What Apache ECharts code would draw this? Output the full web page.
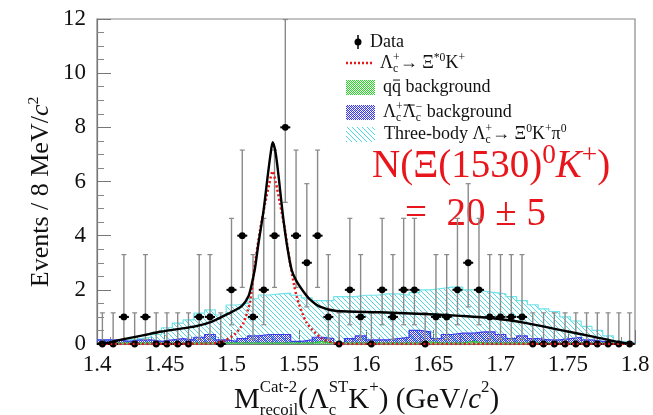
<!DOCTYPE html>
<html><head><meta charset="utf-8">
<script src="https://cdn.jsdelivr.net/npm/echarts@6.0.0/dist/echarts.min.js"></script>
<style>html,body{margin:0;padding:0;background:#fff}#c{width:653px;height:415px}</style>
</head><body><div id="c"></div>
<script>
// ---------------- data ----------------
const binLow = 1.4, binWidth = 0.008;
const counts = [0,0,1,0,1,0,0,0,0,1, 1,0,2,4,1,2,4,8,4,3, 4,1,0,2,1,0,2,1,2,2, 0,1,1,2,3,2,1,1,1,1, 0,0,0,0,0,0,0,0,0,0];
const errDown = {0:0, 1:0.83, 2:1.29, 3:1.63, 4:1.91, 8:2.77};
const errUp   = {0:1.15, 1:2.30, 2:2.64, 3:2.92, 4:3.16, 8:3.98};
const threeBody = [0.15,0.15,0.15,0.2,0.25,0.35,0.6,0.77,0.89,1.14, 1.26,1.07,1.44,1.5,1.67,1.81,1.85,1.88,1.8,1.7, 1.6,1.6,1.75,1.75,1.8,1.8,1.85,1.85,1.8,1.9, 2.0,2.05,2.1,2.1,2.0,1.95,1.9,1.85,1.75,1.6, 1.45,1.3,1.2,1.0,0.85,0.65,0.5,0.3,0.1,0.05];
const lcBkg = [0.15,0.15,0.1,0.15,0.15,0.1,0.15,0.2,0.15,0.25, 0.35,0.15,0.1,0.2,0.3,0.35,0.35,0.35,0.1,0.15, 0.25,0.2,0.05,0.2,0.3,0.15,0.15,0.2,0.25,0.5, 0.45,0.2,0.35,0.4,0.4,0.45,0.45,0.35,0.2,0.3, 0.2,0.15,0.15,0.2,0.25,0.15,0.1,0.1,0.05,0.02];
const qqBkg = [0.04,0.04,0.04,0.04,0.04,0.04,0.04,0.04,0.04,0.04, 0.04,0.04,0.04,0.04,0.04,0.04,0.04,0.04,0.04,0.04, 0.1,0.04,0.04,0.04,0.04,0.04,0.04,0.04,0.04,0.04, 0.08,0.04,0.04,0.04,0.1,0.04,0.04,0.04,0.04,0.04, 0.04,0.04,0.04,0.04,0.04,0.04,0.04,0.04,0.03,0.02];
const fitX = [1.400,1.406,1.420,1.435,1.448,1.460,1.473,1.485,1.4976,1.5076,1.5125,1.515,1.5175,1.520,1.5236,1.5266,1.529,1.5306,1.5328,1.5353,1.538,1.541,1.5447,1.548,1.5533,1.5583,1.5657,1.578,1.610,1.6475,1.670,1.6945,1.7193,1.744,1.7688,1.786,1.798];
const fitY = [0.00,0.03,0.18,0.33,0.46,0.55,0.65,0.82,1.12,1.40,1.75,2.20,2.80,3.70,4.84,6.07,7.00,7.45,7.06,6.07,4.84,3.73,2.74,2.35,1.95,1.65,1.38,1.22,1.17,1.10,1.04,0.95,0.77,0.52,0.27,0.09,0.00];
const sigX = [1.400,1.480,1.490,1.495,1.5026,1.5088,1.5137,1.5175,1.5212,1.525,1.528,1.5306,1.533,1.536,1.5398,1.5435,1.5485,1.556,1.567,1.577,1.590,1.800];
const sigY = [0.00,0.01,0.05,0.12,0.37,0.77,1.55,2.99,4.20,5.20,5.90,6.38,5.95,5.20,4.20,3.00,1.75,0.77,0.21,0.03,0.00,0.00];
const xTickLabels = ['1.4','1.45','1.5','1.55','1.6','1.65','1.7','1.75','1.8'];
const yTickLabels = ['0','2','4','6','8','10','12'];

// ---------------- helpers ----------------
const FF = '"Liberation Serif","Times New Roman",serif';
function makePattern(kind){
  const c = document.createElement('canvas');
  const x = c.getContext('2d');
  if (kind === 'cyan'){
    c.width = 5; c.height = 5;
    x.strokeStyle = '#4fd9e3'; x.lineWidth = 1;
    for (const o of [-5,0,5]){ x.beginPath(); x.moveTo(o,0); x.lineTo(o+5,5); x.stroke(); }
  } else {
    c.width = 4; c.height = 4;
    x.fillStyle = kind === 'blue' ? '#3a3aee' : '#33d033';
    for (let i = 0; i < 4; i++) for (let j = 0; j < 4; j++) if ((i + j) % 2 === 0) x.fillRect(i, j, 1, 1);
    x.fillStyle = kind === 'blue' ? 'rgba(90,90,240,0.45)' : 'rgba(80,220,80,0.45)';
    x.fillRect(1,0,1,1); x.fillRect(3,2,1,1);
  }
  return {image: c, repeat: 'repeat'};
}
const patCyan = makePattern('cyan'), patBlue = makePattern('blue'), patGreen = makePattern('green');

const mctx = document.createElement('canvas').getContext('2d');
function tw(t, s, it){ mctx.font = (it?'italic ':'') + s + 'px ' + FF; return mctx.measureText(t).width; }
// lay out a line of text pieces (sub/superscripts) starting at x0 with baseline B
function textLine(parts, x0, B, size, color){
  const els = []; let x = x0;
  parts.forEach(p => {
    if (typeof p === 'string') p = {t:p};
    const grp = p.stack || [p];
    let wmax = 0;
    grp.forEach(q => {
      const s = (q.r||1)*size, b = B + (q.dy||0)*size, w = tw(q.t, s, q.it);
      els.push({type:'text', x:x, y:b - 0.32*s, silent:true,
        style:{text:q.t, fontSize:s, fontFamily:FF, fontStyle:q.it?'italic':'normal', fill:color, align:'left', verticalAlign:'middle'}});
      if (q.over) els.push({type:'line', silent:true, shape:{x1:x+1, y1:b-0.72*s, x2:x+w-1, y2:b-0.72*s}, style:{stroke:color, lineWidth:1}});
      wmax = Math.max(wmax, w);
    });
    x += wmax;
  });
  return {els, width: x - x0};
}
const SUP = (t,r) => ({t, r:r||0.65, dy:-0.38});
const SUB = (t,r) => ({t, r:r||0.65, dy:0.2});
const SS = (a,b) => ({stack:[SUP(a), SUB(b)]});

// ---------------- graphics (legend, titles, annotation) ----------------
const graphics = [];
// Legend
graphics.push({type:'line', silent:true, shape:{x1:358,y1:35,x2:358,y2:49}, style:{stroke:'#000', lineWidth:1.5}});
graphics.push({type:'circle', silent:true, shape:{cx:358,cy:42,r:3.5}, style:{fill:'#000'}});
graphics.push({type:'line', silent:true, shape:{x1:346,y1:63,x2:372,y2:63}, style:{stroke:'#e81818', lineWidth:2.5, lineDash:[2,2]}});
graphics.push({type:'rect', silent:true, shape:{x:346,y:80,width:29,height:15}, style:{fill:patGreen}});
graphics.push({type:'rect', silent:true, shape:{x:346,y:105,width:29,height:15}, style:{fill:patBlue}});
graphics.push({type:'rect', silent:true, shape:{x:346,y:127,width:29,height:15}, style:{fill:patCyan}});
const LS = 18, LC = '#111';
graphics.push(...textLine(['Data'], 370, 48, LS, LC).els);
graphics.push(...textLine(['Λ', SS('+','c'), '→ Ξ', SUP('*0'), 'K', SUP('+')], 380, 69, LS, LC).els);
graphics.push(...textLine(['q', {t:'q', over:true}, ' background'], 383, 93, LS, LC).els);
graphics.push(...textLine(['Λ', SS('+','c'), {t:'Λ', over:true}, SS('−','c'), ' background'], 383, 118, LS, LC).els);
graphics.push(...textLine(['Three-body Λ', SS('+','c'), '→ Ξ', SUP('0'), 'K', SUP('+'), 'π', SUP('0')], 384, 140, LS, LC).els);
// Annotation
const RC = '#e8161c';
graphics.push(...textLine(['N(Ξ(1530)', SUP('0',0.7), {t:'K', it:true}, SUP('+',0.7), ')'], 372, 179, 39, RC).els);
graphics.push(...textLine(['=  20 ', '±', ' 5'], 405, 227, 39, RC).els);
// X title
graphics.push(...textLine(['M', {stack:[{t:'Cat-2', r:0.58, dy:-0.6}, {t:'recoil', r:0.58, dy:0.22}]}, '(Λ',
  {stack:[{t:'ST', r:0.58, dy:-0.6}, {t:'c', r:0.58, dy:0.22}]}, 'K', {t:'+', r:0.58, dy:-0.6}, ') (GeV/', {t:'c', it:true}, {t:'2', r:0.58, dy:-0.6}, ')'],
  234, 410, 29, '#111').els);
// Y title (rotated)
{
  const yt = textLine(['Events / 8 MeV/', {t:'c', it:true}, SUP('2', 0.6)], 0, 0, 26, '#111');
  const shift = -yt.width/2;
  yt.els.forEach(e => { e.x += shift; e.y += 9; });
  graphics.push({type:'group', x:40, y:192, rotation:Math.PI/2, silent:true, children: yt.els});
}

// ---------------- series ----------------
const hist = v => v.map((y,k) => [binLow + k*binWidth, y]).concat([[binLow + v.length*binWidth, v[v.length-1]]]);
const pts = counts.map((n,k) => [binLow + (k+0.5)*binWidth, n, n - errDown[n], n + errUp[n]]);
const zip = (a,b) => a.map((x,i) => [x, b[i]]);

const option = {
  animation: false,
  backgroundColor: '#fff',
  grid: {left: 97, right: 18, top: 19, bottom: 71, show: true, borderColor: '#888', borderWidth: 1.2, containLabel: false, outerBoundsMode: 'none'},
  xAxis: {
    type: 'value', min: 1.4, max: 1.8, interval: 0.05,
    axisLine: {show: true, onZero: false, lineStyle: {color: '#777', width: 1.2}},
    axisTick: {show: true, inside: true, length: 14, lineStyle: {color: '#777'}},
    minorTick: {show: true, splitNumber: 5, length: 7, lineStyle: {color: '#888'}},
    splitLine: {show: false}, minorSplitLine: {show: false},
    axisLabel: {fontFamily: FF, fontSize: 23, color: '#111', margin: 9, showMinLabel: true, showMaxLabel: true,
      formatter: (v, i) => xTickLabels[i]}
  },
  yAxis: {
    type: 'value', min: 0, max: 12, interval: 2,
    axisLine: {show: true, lineStyle: {color: '#777', width: 1.2}},
    axisTick: {show: true, inside: true, length: 14, lineStyle: {color: '#777'}},
    minorTick: {show: true, splitNumber: 4, length: 7, lineStyle: {color: '#888'}},
    splitLine: {show: false}, minorSplitLine: {show: false},
    axisLabel: {fontFamily: FF, fontSize: 23, color: '#111', margin: 11, showMinLabel: true, showMaxLabel: true,
      formatter: (v, i) => yTickLabels[i]}
  },
  graphic: graphics,
  series: [
    {name: 'Three-body', type: 'line', step: 'end', data: hist(threeBody), symbol: 'none', z: 1,
      lineStyle: {color: '#6fe3ea', width: 1.2}, areaStyle: {color: patCyan, opacity: 1}},
    {name: 'LcLc background', type: 'line', step: 'end', data: hist(lcBkg), symbol: 'none', z: 2,
      lineStyle: {color: '#3c3ce6', width: 1.2}, areaStyle: {color: patBlue, opacity: 1}},
    {name: 'qq background', type: 'line', step: 'end', data: hist(qqBkg), symbol: 'none', z: 3,
      lineStyle: {color: '#30c030', width: 1}, areaStyle: {color: patGreen, opacity: 1}},
    {name: 'Data', type: 'custom', data: pts, z: 4,
      encode: {x: 0, y: 1},
      renderItem: (params, api) => {
        const x = api.value(0), y = api.value(1), lo = api.value(2), hi = api.value(3);
        const p = api.coord([x, y]), pl = api.coord([x, lo]), ph = api.coord([x, hi]);
        const ch = [
          {type:'line', shape:{x1:p[0], y1:pl[1], x2:p[0], y2:ph[1]}, style:{stroke:'#8a8a8a', lineWidth:1.4}},
          {type:'line', shape:{x1:p[0]-2.5, y1:ph[1], x2:p[0]+2.5, y2:ph[1]}, style:{stroke:'#8a8a8a', lineWidth:1.2}}
        ];
        if (lo > 0) ch.push({type:'line', shape:{x1:p[0]-2.5, y1:pl[1], x2:p[0]+2.5, y2:pl[1]}, style:{stroke:'#8a8a8a', lineWidth:1.2}});
        ch.push({type:'line', shape:{x1:p[0]-5, y1:p[1], x2:p[0]+5, y2:p[1]}, style:{stroke:'#000', lineWidth:2}});
        ch.push({type:'circle', shape:{cx:p[0], cy:p[1], r:3.4}, style:{fill:'#000'}});
        return {type:'group', children: ch};
      }},
    {name: 'Signal', type: 'line', data: zip(sigX, sigY), symbol: 'none', smooth: 0.25, z: 5,
      lineStyle: {color: '#e81818', width: 2.5, type: [2, 2.5]}},
    {name: 'Fit', type: 'line', data: zip(fitX, fitY), symbol: 'none', smooth: 0.25, z: 6,
      lineStyle: {color: '#000', width: 2.4}}
  ]
};
const chart = echarts.init(document.getElementById('c'), null, {renderer: 'canvas'});
chart.setOption(option);
</script>
</body></html>
